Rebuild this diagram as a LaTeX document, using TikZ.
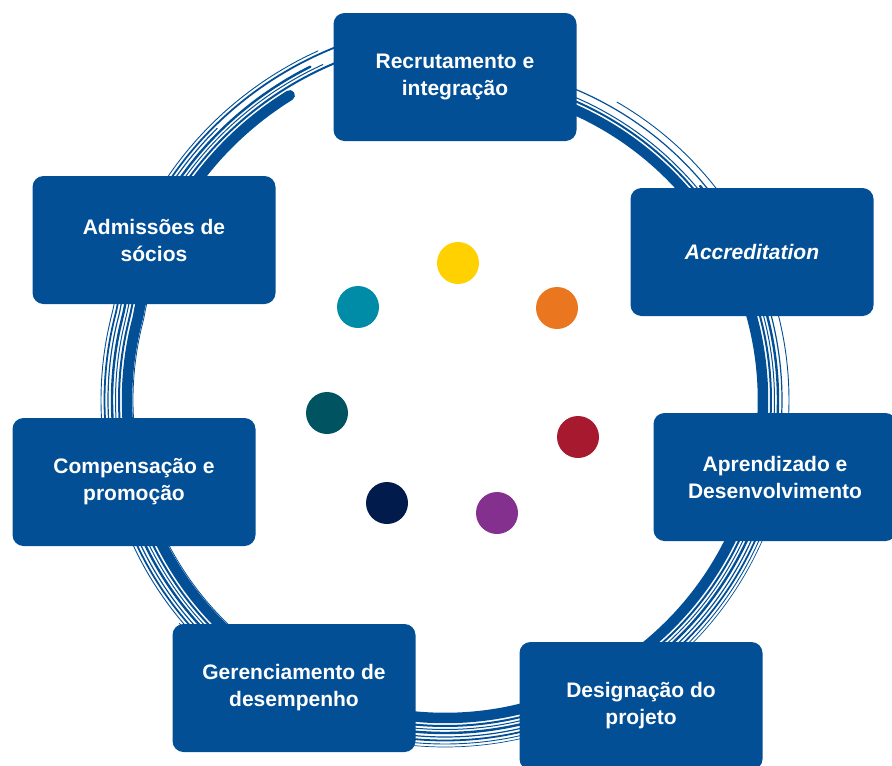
\documentclass[tikz,border=0pt]{standalone}
\usepackage{fontspec}
\setmainfont{Liberation Sans}
\usepackage{xcolor}
\usepackage{tikz}
\definecolor{kblue}{HTML}{034F96}
\definecolor{dotyellow}{HTML}{FFD100}
\definecolor{dotorange}{HTML}{EB7620}
\definecolor{dotcyan}{HTML}{008CA6}
\definecolor{dotteal}{HTML}{005462}
\definecolor{dotred}{HTML}{A6192E}
\definecolor{dotnavy}{HTML}{001B4C}
\definecolor{dotpurple}{HTML}{84308F}

\begin{document}
\begin{tikzpicture}[
  x=1pt, y=-1pt,
  declare function={rr(\t)=318+max(0,\t-195)*0.5;},
  every node/.style={font=\fontsize{21}{27}\selectfont\bfseries},
  stage/.style={
    rectangle, rounded corners=11pt,
    fill=kblue, text=white,
    minimum width=243pt, minimum height=128pt,
    align=center, inner sep=4pt
  },
  dot/.style={circle, minimum size=42pt, inner sep=0pt},
  brush/.style={draw=kblue, line cap=round}
]
\useasboundingbox (0,0) rectangle (892,766);

% brushed ring: thin strands first, then the heavy stroke
\foreach \dr/\lw/\ta/\tb in {8/2.0/-80/252, 11.5/1.0/-70/250, 15/2.4/-40/248,
                             19/1.2/-80/230, 22.5/1.8/20/254, 26/0.9/-60/250,
                             29/0.7/10/140, -6/0.8/100/200} {
  \draw[brush, line width=\lw pt] plot[domain=\ta:\tb, samples=160, smooth]
    ({445+(rr(\x)+\dr)*cos(\x)}, {400+(rr(\x)+\dr)*sin(\x)});
}
\draw[brush, line width=10.5pt] plot[domain=-75:243, samples=200, smooth]
  ({445+rr(\x)*cos(\x)}, {400+rr(\x)*sin(\x)});

% stages
\node[stage] (rec) at (455,77)  {Recrutamento e\\integração};
\node[stage] (acc) at (752,252) {\textit{Accreditation}};
\node[stage] (apr) at (775,477) {Aprendizado e\\Desenvolvimento};
\node[stage] (des) at (641,706) {Designação do\\projeto};
\node[stage] (ger) at (294,688) {Gerenciamento de\\desempenho};
\node[stage] (com) at (134,482) {Compensação e\\promoção};
\node[stage] (adm) at (154,240) {Admissões de\\sócios};

% dots in the middle
\node[dot, fill=dotyellow] (dy) at (458,263) {};
\node[dot, fill=dotorange] (do) at (557,308) {};
\node[dot, fill=dotred]    (dr) at (578,437) {};
\node[dot, fill=dotpurple] (dp) at (497,513) {};
\node[dot, fill=dotnavy]   (dn) at (387,503) {};
\node[dot, fill=dotteal]   (dt) at (327,413) {};
\node[dot, fill=dotcyan]   (dc) at (358,307) {};
\end{tikzpicture}
\end{document}
